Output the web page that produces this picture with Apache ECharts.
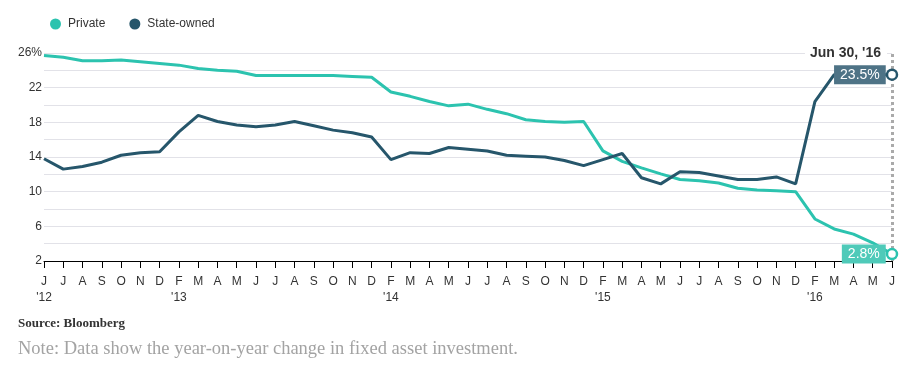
<!DOCTYPE html>
<html>
<head>
<meta charset="utf-8">
<script src="https://cdn.jsdelivr.net/npm/echarts@6/dist/echarts.min.js"></script>
<style>
  html, body { margin: 0; padding: 0; background: #fff; }
  #chart { width: 908px; height: 368px; }
</style>
</head>
<body>
<div id="chart"></div>
<script>
const categories = [
  '2012-06','2012-07','2012-08','2012-09','2012-10','2012-11','2012-12',
  '2013-02','2013-03','2013-04','2013-05','2013-06','2013-07','2013-08','2013-09','2013-10','2013-11','2013-12',
  '2014-02','2014-03','2014-04','2014-05','2014-06','2014-07','2014-08','2014-09','2014-10','2014-11','2014-12',
  '2015-02','2015-03','2015-04','2015-05','2015-06','2015-07','2015-08','2015-09','2015-10','2015-11','2015-12',
  '2016-02','2016-03','2016-04','2016-05','2016-06'
];
const monthLabels = [
  'J','J','A','S','O','N','D',
  'F','M','A','M','J','J','A','S','O','N','D',
  'F','M','A','M','J','J','A','S','O','N','D',
  'F','M','A','M','J','J','A','S','O','N','D',
  'F','M','A','M','J'
];
const yearLabels = {0: "'12", 7: "'13", 18: "'14", 29: "'15", 40: "'16"};
const privateVals = [
  25.7, 25.5, 25.1, 25.1, 25.2, 25.0, 24.8,
  24.6, 24.2, 24.0, 23.9, 23.4, 23.4, 23.4, 23.4, 23.4, 23.3, 23.2,
  21.5, 21.0, 20.4, 19.9, 20.1, 19.5, 19.0, 18.3, 18.1, 18.0, 18.1,
  14.7, 13.5, 12.75, 12.05, 11.4, 11.25, 11.0, 10.4, 10.2, 10.1, 10.0,
  6.85, 5.7, 5.1, 4.1, 2.8
];
const stateVals = [
  13.8, 12.6, 12.9, 13.4, 14.2, 14.5, 14.6,
  16.9, 18.8, 18.1, 17.7, 17.5, 17.7, 18.1, 17.6, 17.1, 16.8, 16.3,
  13.7, 14.5, 14.4, 15.1, 14.9, 14.7, 14.2, 14.1, 14.0, 13.6, 13.0,
  13.7, 14.4, 11.6, 10.9, 12.3, 12.2, 11.8, 11.4, 11.4, 11.7, 10.9,
  20.4, 23.5, 23.6, 23.5, 23.5
];
const yTicks = [2, 6, 10, 14, 18, 22, 26];
const dateLabel = "Jun 30, '16";
const sourceText = 'Source: Bloomberg';
const noteText = 'Note: Data show the year-on-year change in fixed asset investment.';

const tealLine = '#2cc3af';
const darkLine = '#26566b';
const tealBox = '#4fcab9';
const darkBox = '#4e7386';
const last = categories.length - 1;

const chart = echarts.init(document.getElementById('chart'), null, {renderer: 'canvas'});

function endSeries(name, vals, lineColor, boxColor) {
  return {
    name: name + '-end',
    type: 'scatter',
    data: [[last, vals[last]]],
    symbol: 'circle',
    symbolSize: 10,
    z: 5,
    itemStyle: { color: '#fff', borderColor: lineColor, borderWidth: 2.5, opacity: 1 },
    label: {
      show: true,
      position: 'left',
      distance: 0,
      formatter: p => p.value[1] + '%',
      color: '#fff',
      fontSize: 14,
      fontFamily: 'Liberation Sans, Arial, sans-serif',
      backgroundColor: boxColor,
      padding: [3, 6, 2, 6]
    },
    emphasis: { disabled: true },
    silent: true
  };
}

chart.setOption({
  animation: false,
  backgroundColor: '#fff',
  textStyle: { fontFamily: 'Liberation Sans, Arial, sans-serif' },
  grid: { left: 44, right: 16, top: 53, bottom: 107, containLabel: false },
  legend: {
    data: ['Private', 'State-owned'],
    left: 45,
    top: 13,
    icon: 'circle',
    itemWidth: 11,
    itemHeight: 11,
    itemGap: 24,
    textStyle: { fontSize: 12, color: '#333', padding: [0, 0, 0, 2] }
  },
  xAxis: {
    type: 'category',
    data: categories,
    boundaryGap: false,
    axisLine: { show: true, lineStyle: { color: '#000', width: 1 } },
    axisTick: { show: true, length: 7, interval: 0, lineStyle: { color: '#000', width: 1 } },
    axisLabel: {
      interval: 0,
      margin: 13,
      fontSize: 12,
      lineHeight: 16,
      color: '#333',
      formatter: (v, i) => monthLabels[i] + (yearLabels[i] ? '\n' + yearLabels[i] : '')
    },
    splitLine: { show: false }
  },
  yAxis: {
    type: 'value',
    min: 2,
    max: 26,
    interval: 2,
    axisLine: { show: false },
    axisTick: { show: false },
    axisLabel: {
      margin: 2,
      fontSize: 12,
      color: '#333',
      formatter: v => yTicks.includes(v) ? (v === 26 ? v + '%' : String(v)) : ''
    },
    splitLine: { show: true, lineStyle: { color: '#e2e2e8', width: 1 } }
  },
  graphic: [
    {
      type: 'text', right: 21, top: 45, z: 10,
      style: {
        text: dateLabel, fill: '#333',
        font: 'bold 14px "Liberation Sans", Arial, sans-serif',
        backgroundColor: '#fff', padding: [1, 6, 1, 5]
      }
    },
    {
      type: 'text', left: 18, top: 317,
      style: { text: sourceText, fill: '#333', font: 'bold 13px "Liberation Serif", "DejaVu Serif", serif' }
    },
    {
      type: 'text', left: 18, top: 340,
      style: { text: noteText, fill: '#a3a3a3', font: '18.5px "Liberation Serif", "DejaVu Serif", serif' }
    }
  ],
  series: [
    {
      name: 'Private',
      type: 'line',
      data: privateVals,
      color: tealLine,
      showSymbol: false,
      symbol: 'none',
      lineStyle: { width: 3, color: tealLine },
      z: 3,
      markLine: {
        silent: true,
        symbol: 'none',
        label: { show: false },
        lineStyle: { color: '#aaa', type: [3, 3], width: 3 },
        data: [{ xAxis: last }]
      }
    },
    {
      name: 'State-owned',
      type: 'line',
      data: stateVals,
      color: darkLine,
      showSymbol: false,
      symbol: 'none',
      lineStyle: { width: 3, color: darkLine },
      z: 3
    },
    endSeries('Private', privateVals, tealLine, tealBox),
    endSeries('State-owned', stateVals, darkLine, darkBox)
  ]
});
</script>
</body>
</html>
